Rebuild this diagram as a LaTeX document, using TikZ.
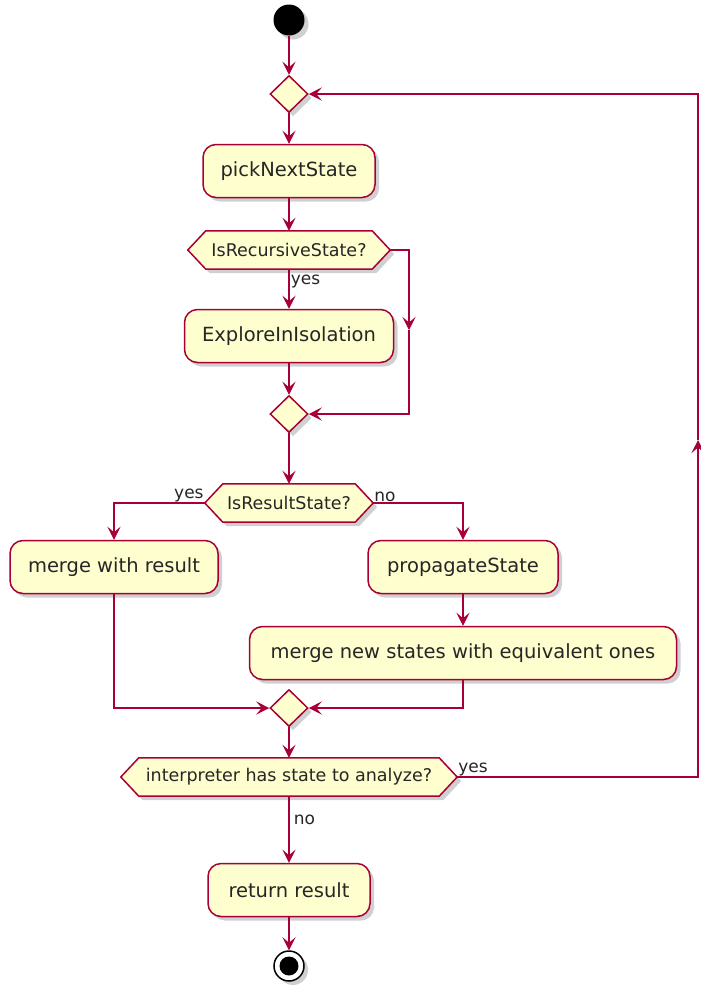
\documentclass[tikz,border=0pt]{standalone}
\usepackage{fontspec}
\setmainfont{DejaVu Sans}
\usetikzlibrary{shapes.geometric,arrows.meta,shadows,backgrounds}
\definecolor{pborder}{HTML}{A80036}
\definecolor{pfill}{HTML}{FEFECE}
\tikzset{
  x=1pt,y=1pt,
  shad/.style={drop shadow={shadow xshift=4pt,shadow yshift=-4pt,opacity=0.3,fill=black!60}},
  actbox/.style={draw=pborder,fill=pfill,line width=1.5pt,rounded corners=13pt,minimum height=53pt,inner sep=0pt,font=\fontsize{19.5}{23}\selectfont,text=black!85,shad},
  hextext/.style={inner sep=0pt,minimum height=38pt,font=\fontsize{17.5}{20}\selectfont,text=black!85},
  hexshape/.style={draw=pborder,fill=pfill,line width=1.5pt,shad},
  merge/.style={diamond,aspect=1,draw=pborder,fill=pfill,line width=1.5pt,inner sep=0pt,minimum width=38pt,minimum height=37pt,shad},
  conn/.style={draw=pborder,line width=1.5pt},
  arr/.style={conn,-{Stealth[length=13pt,width=13pt,inset=5.5pt]}},
  lbl/.style={font=\fontsize{17}{20}\selectfont,text=black!85,inner sep=1pt},
}
\begin{document}
\begin{tikzpicture}
\useasboundingbox (0,0) rectangle (701,-989);
% nodes
\node[circle,fill=black,minimum size=31pt,inner sep=0pt,shad] (start) at (289,-20) {};
\node[merge] (d1) at (289,-94) {};
\node[actbox,minimum width=172pt] (pick) at (289,-171) {pickNextState};
\node[hextext,minimum width=166pt] (h1) at (289,-250) {IsRecursiveState?};
\node[actbox,minimum width=209pt] (explore) at (289,-336) {ExploreInIsolation};
\node[merge] (d2) at (289,-414) {};
\node[hextext,minimum width=132pt] (h2) at (289,-503) {IsResultState?};
\node[actbox,minimum width=208pt] (mwr) at (114,-567) {merge with result};
\node[actbox,minimum width=190pt] (prop) at (463,-567) {propagateState};
\node[actbox,minimum width=427pt] (mnew) at (463,-653) {merge new states with equivalent ones};
\node[merge] (d3) at (289,-708) {};
\node[hextext,minimum width=300pt] (h3) at (289,-777) {interpreter has state to analyze?};
\node[actbox,minimum width=162pt] (ret) at (289,-890) {return result};
\node[circle,draw=black,line width=1.5pt,fill=white,minimum size=30pt,inner sep=0pt,shad] (end) at (289,-966) {};
\fill[black] (end.center) circle (9.5pt);
% hexagon points
\coordinate (h1L) at ([xshift=-18pt]h1.west);
\coordinate (h1R) at ([xshift=18pt]h1.east);
\coordinate (h2L) at ([xshift=-18pt]h2.west);
\coordinate (h2R) at ([xshift=18pt]h2.east);
\coordinate (h3L) at ([xshift=-18pt]h3.west);
\coordinate (h3R) at ([xshift=18pt]h3.east);
\begin{scope}[on background layer]
\fill[white] (0,0) rectangle (701,-989);
\path[hexshape] (h1L) -- (h1.north west) -- (h1.north east) -- (h1R) -- (h1.south east) -- (h1.south west) -- cycle;
\path[hexshape] (h2L) -- (h2.north west) -- (h2.north east) -- (h2R) -- (h2.south east) -- (h2.south west) -- cycle;
\path[hexshape] (h3L) -- (h3.north west) -- (h3.north east) -- (h3R) -- (h3.south east) -- (h3.south west) -- cycle;
\end{scope}
% helper coordinates
\coordinate (r1a) at (409,-250);
\coordinate (r1b) at (409,-330);
\coordinate (r1c) at (409,-414);
\coordinate (l2a) at (114,-503);
\coordinate (r2a) at (463,-503);
\coordinate (l3a) at (114,-708);
\coordinate (r3a) at (463,-708);
\coordinate (lpa) at (698,-777);
\coordinate (lpb) at (698,-440);
\coordinate (lpc) at (698,-94);
% connectors
\draw[arr] (start) -- (d1);
\draw[arr] (d1) -- (pick);
\draw[arr] (pick) -- (h1.north);
\draw[arr] (h1.south) -- node[lbl,pos=0.3,anchor=west] {yes} (explore);
\draw[arr] (h1R) -- (r1a) -- (r1b);
\draw[arr] (r1b) -- (r1c) -- (d2.east);
\draw[arr] (explore) -- (d2);
\draw[arr] (d2) -- (h2.north);
\draw[arr] (h2L) -- (l2a) -- (mwr.north);
\node[lbl,anchor=south east] (yes2) at (h2L) {yes};
\draw[arr] (h2R) -- (r2a) -- (prop.north);
\node[lbl,anchor=south west] (no2) at (h2R) {no};
\draw[arr] (prop) -- (mnew);
\draw[arr] (mwr.south) -- (l3a) -- (d3.west);
\draw[arr] (mnew.south) -- (r3a) -- (d3.east);
\draw[arr] (d3) -- (h3.north);
\draw[arr] (h3R) -- (lpa) -- (lpb);
\draw[arr] (lpb) -- (lpc) -- (d1.east);
\node[lbl,anchor=south west] (yes3) at (h3R) {yes};
\draw[arr] (h3.south) -- node[lbl,pos=0.35,anchor=west,xshift=3pt] {no} (ret);
\draw[arr] (ret) -- (end);
\end{tikzpicture}
\end{document}
